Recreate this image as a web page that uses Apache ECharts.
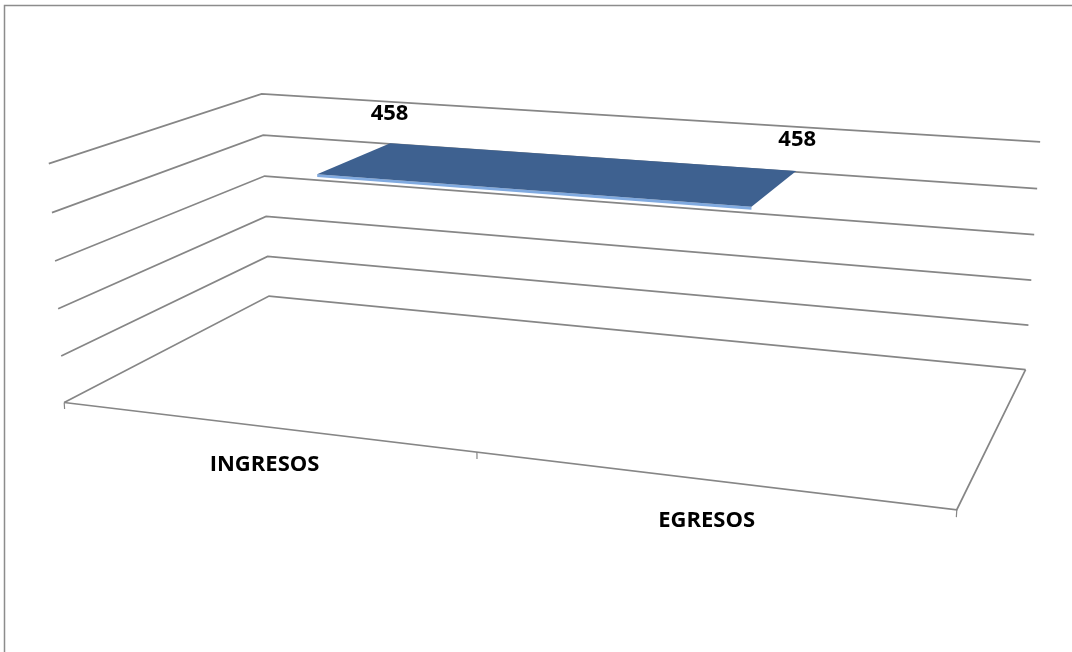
<!DOCTYPE html>
<html>
<head>
<meta charset="utf-8">
<script src="https://cdn.jsdelivr.net/npm/echarts@6/dist/echarts.min.js"></script>
<style>
html, body { margin: 0; padding: 0; background: #fff; }
#chart { width: 1072px; height: 652px; }
</style>
</head>
<body>
<div id="chart"></div>
<script>
const categories = ['INGRESOS', 'EGRESOS'];
const values = [458, 458];
const yTicks = [0, 100, 200, 300, 400, 500];

// Camera calibration: box corners (X along categories, Y along values, Z depth 0=front 1=back)
// and where they sit on screen. A perspective matrix is fitted from them.
const calib = [
    [0, 0, 0, 65, 402], [1, 0, 0, 957, 508], [0.5, 0, 0, 476, 455],
    [0, 0, 1, 269, 296], [1, 0, 1, 1025, 369],
    [0, 1, 1, 262, 94], [1, 1, 1, 1040, 142], [0, 1, 0, 49, 163],
    [0, 0.8, 1, 263, 135], [0, 0.6, 1, 264, 177], [0, 0.4, 1, 266, 216], [0, 0.2, 1, 268, 256],
    [0, 0.8, 0, 52, 212], [0, 0.6, 0, 55, 261], [0, 0.4, 0, 58, 309], [0, 0.2, 0, 61, 356],
    [1, 0.8, 1, 1037, 189], [1, 0.6, 1, 1034, 235], [1, 0.4, 1, 1032, 280], [1, 0.2, 1, 1029, 325]
];
const ribbonDepth = [0.3, 0.7];

function fitCamera(pts) {
    const n = 11;
    const M = Array.from({ length: n }, () => new Array(n + 1).fill(0));
    const addRow = (row, rhs) => {
        for (let i = 0; i < n; i++) {
            for (let j = 0; j < n; j++) M[i][j] += row[i] * row[j];
            M[i][n] += row[i] * rhs;
        }
    };
    for (const [X, Y, Z, u, v] of pts) {
        addRow([X, Y, Z, 1, 0, 0, 0, 0, -u * X, -u * Y, -u * Z], u);
        addRow([0, 0, 0, 0, X, Y, Z, 1, -v * X, -v * Y, -v * Z], v);
    }
    for (let c = 0; c < n; c++) {
        let p = c;
        for (let r = c + 1; r < n; r++) if (Math.abs(M[r][c]) > Math.abs(M[p][c])) p = r;
        [M[c], M[p]] = [M[p], M[c]];
        for (let r = 0; r < n; r++) {
            if (r === c) continue;
            const f = M[r][c] / M[c][c];
            for (let k = c; k <= n; k++) M[r][k] -= f * M[c][k];
        }
    }
    return M.map((row, i) => row[n] / row[i]);
}

const cam = fitCamera(calib);
function project(X, Y, Z) {
    const w = cam[8] * X + cam[9] * Y + cam[10] * Z + 1;
    return [(cam[0] * X + cam[1] * Y + cam[2] * Z + cam[3]) / w,
            (cam[4] * X + cam[5] * Y + cam[6] * Z + cam[7]) / w];
}

// pixel in the hidden grid -> normalised box coordinates
function toBox(params, pt) {
    const cs = params.coordSys;
    return [(pt[0] - cs.x) / cs.width, (cs.y + cs.height - pt[1]) / cs.height];
}

const gridColor = '#868686';

function renderWalls(params, api) {
    const Y = toBox(params, api.coord([0, api.value(1)]))[1];
    const children = [{
        type: 'polyline',
        shape: { points: [project(0, Y, 0), project(0, Y, 1), project(1, Y, 1)] },
        style: { stroke: gridColor, lineWidth: 1.7, fill: null }
    }];
    if (params.dataIndex === 0) {
        // floor front and right edges + category ticks
        children.push({
            type: 'polyline',
            shape: { points: [project(0, 0, 0), project(1, 0, 0), project(1, 0, 1)] },
            style: { stroke: gridColor, lineWidth: 1.7, fill: null }
        });
        for (let i = 0; i <= categories.length; i++) {
            const X = i / categories.length;
            const a = project(X, 0, 0), b = project(X, -0.028, 0);
            children.push({
                type: 'line',
                shape: { x1: a[0], y1: a[1], x2: b[0], y2: b[1] },
                style: { stroke: gridColor, lineWidth: 1.2 }
            });
        }
        // category labels
        categories.forEach((c, i) => {
            const X = (i + 0.5) / categories.length;
            const p = project(X, -0.16, 0);
            children.push({
                type: 'text',
                x: p[0], y: p[1],
                style: { text: c, fill: '#000', font: 'bold 22px "Open Sans", sans-serif', align: 'center', verticalAlign: 'middle' }
            });
        });
    }
    return { type: 'group', children };
}

function renderRibbon(params, api) {
    const i = params.dataIndex;
    const [z0, z1] = ribbonDepth;
    const [Xa, Ya] = toBox(params, api.coord([i, values[i]]));
    const children = [];
    if (i < values.length - 1) {
        const [Xb, Yb] = toBox(params, api.coord([i + 1, values[i + 1]]));
        const th = 0.012;
        children.push({
            type: 'polygon',
            shape: { points: [project(Xa, Ya, z0), project(Xb, Yb, z0), project(Xb, Yb - th, z0), project(Xa, Ya - th, z0)] },
            style: { fill: '#80aae0' }
        });
        children.push({
            type: 'polygon',
            shape: { points: [project(Xa, Ya, z0), project(Xa, Ya, z1), project(Xb, Yb, z1), project(Xb, Yb, z0)] },
            style: { fill: '#3e6190' }
        });
    }
    const lp = project(Xa, Ya + 0.13, z1);
    children.push({
        type: 'text',
        x: lp[0], y: lp[1],
        style: { text: String(values[i]), fill: '#000', font: 'bold 22px "Open Sans", sans-serif', align: 'center', verticalAlign: 'middle' }
    });
    return { type: 'group', children };
}

const chart = echarts.init(document.getElementById('chart'));
chart.setOption({
    backgroundColor: '#fff',
    animation: false,
    grid: { left: 0, right: 0, top: 0, bottom: 0 },
    xAxis: { type: 'category', data: categories, show: false, boundaryGap: true },
    yAxis: { type: 'value', min: 0, max: 500, interval: 100, show: false },
    graphic: [{
        type: 'rect',
        shape: { x: 4.5, y: 5.5, width: 1080, height: 660 },
        style: { fill: null, stroke: '#8c8c8c', lineWidth: 1.5 },
        silent: true
    }],
    series: [
        {
            type: 'custom',
            name: 'walls',
            data: yTicks.map(t => [0, t]),
            renderItem: renderWalls,
            silent: true
        },
        {
            type: 'custom',
            name: 'Serie 1',
            data: values.map((v, i) => [i, v]),
            renderItem: renderRibbon,
            z: 3
        }
    ]
});
</script>
</body>
</html>
